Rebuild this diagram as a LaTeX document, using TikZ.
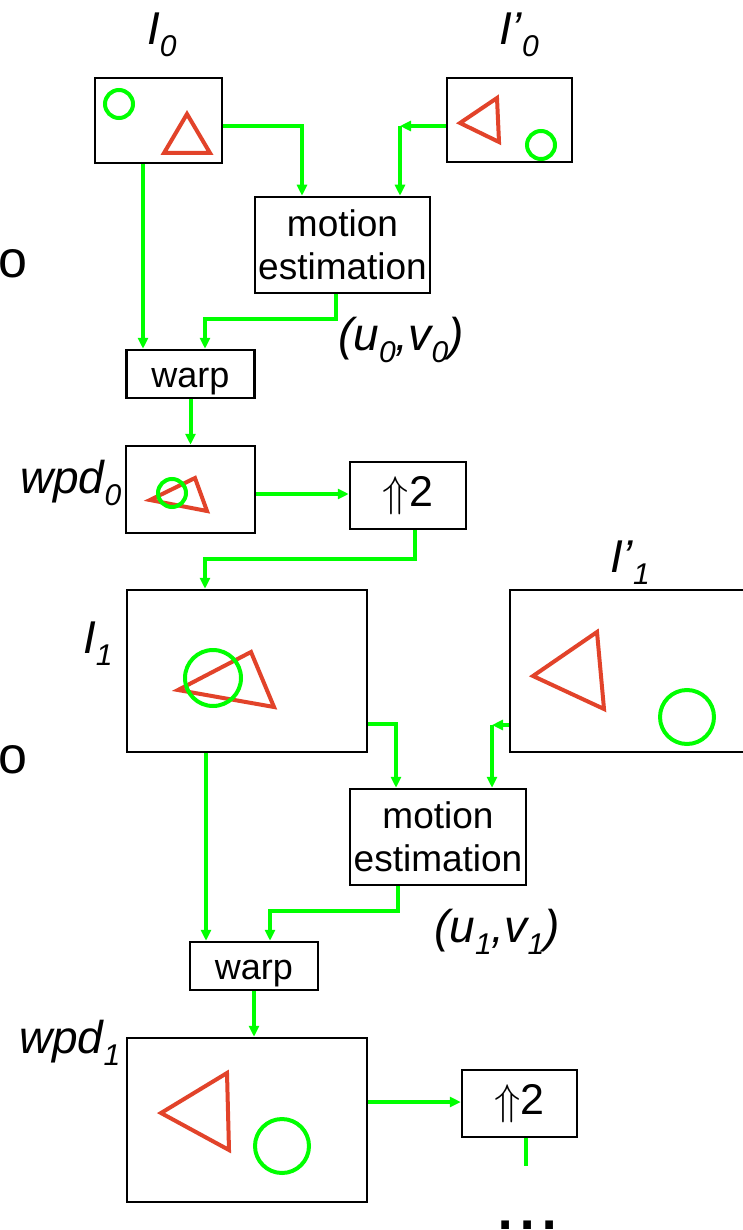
\documentclass[tikz,border=0pt]{standalone}
\usepackage{fontspec}
\setmainfont{Liberation Sans}
\usetikzlibrary{arrows.meta,positioning}
\definecolor{flow}{HTML}{00FF00}
\definecolor{tri}{HTML}{E2432A}
\newcommand{\lsub}[1]{\raisebox{-12pt}{\fontsize{30}{32}\selectfont #1}}
\newcommand{\upby}{\scalebox{4.3}{\fontsize{10}{12}\selectfont$\Uparrow$}}

\begin{document}
\begin{tikzpicture}[x=1pt, y=-1pt, >={Triangle[length=11pt,width=10pt]},
  frame/.style={draw, line width=2.5pt, inner sep=0pt},
  mebox/.style={frame, minimum width=175pt, minimum height=96pt, align=center, font=\fontsize{37}{43}\selectfont},
  wpbox/.style={frame, minimum width=128pt, minimum height=48pt, font=\fontsize{36}{40}\selectfont, text height=34pt, text depth=8pt},
  upbox/.style={frame, minimum width=116pt, minimum height=67pt, font=\fontsize{43}{48}\selectfont},
  e/.style={->, line width=4pt, draw=flow},
  lab/.style={inner sep=0pt, anchor=base west, font=\fontsize{46}{50}\selectfont\itshape},
  trig/.style={draw=tri, line width=4pt},
  circ/.style={draw=flow, line width=4pt}
]
\path[use as bounding box, fill=white] (0,0) rectangle (743,1230);
% level 0
\node[frame, minimum width=127pt, minimum height=85pt] (i0) at (158.5,120.5) {};
\node[frame, minimum width=125pt, minimum height=84pt] (ip0) at (509.5,120) {};
\node[mebox] (me0) at (342.5,245) {motion\\estimation};
\node[wpbox] (wp0) at (190.5,374) {warp};
\node[frame, minimum width=129pt, minimum height=87pt] (wd0) at (190.5,489.5) {};
\node[upbox] (up0) at (408,495.5) {\upby2};
\node[lab] (li0) at (147,45) {I\lsub{0}};
\node[lab] (lip0) at (499,45) {I’\lsub{0}};
\node[lab] (lwd0) at (20,493) {wpd\lsub{0}};
\node[lab] (luv0) at (338,350) {(u\lsub{0},v\lsub{0})};
\node[inner sep=0pt, anchor=base west, font=\fontsize{52}{56}\selectfont] (o0) at (-2,278) {o};
\draw[trig] (187,114) -- (164,153) -- (210,153) -- cycle;
\draw[circ] (119,104) circle[radius=14];
\draw[trig] (460,123) -- (497,98) -- (499,142) -- cycle;
\draw[circ] (541,145) circle[radius=14];
\draw[trig] (150,500) -- (195,478) -- (207,511) -- cycle;
\draw[circ] (172,493) circle[radius=14];
\coordinate (k0) at (400,126);
\draw[e] ([yshift=-5.5pt]i0.east) -| ([xshift=-40.5pt]me0.north);
\draw[e] ([yshift=-6pt]ip0.west) -- (k0);
\draw[e] (k0) -- (k0 |- me0.north);
\draw[e] ([xshift=-15.5pt]i0.south) -- ([xshift=-15.5pt]i0.south |- wp0.north);
\draw[e] ([xshift=-6.5pt]me0.south) -- ++(0,25) -| ([xshift=14.5pt]wp0.north);
\draw[e] (wp0) -- (wd0);
\draw[e] ([yshift=-4.5pt]wd0.east) -- ([yshift=-4.5pt]wd0.east -| up0.west);
% level 1
\node[frame, minimum width=240pt, minimum height=162pt] (i1) at (247,671) {};
\node[frame, minimum width=240pt, minimum height=162pt] (ip1) at (630,671) {};
\node[mebox, minimum width=176pt] (me1) at (438,837) {motion\\estimation};
\node[wpbox] (wp1) at (254,966) {warp};
\node[frame, minimum width=240pt, minimum height=164pt] (wd1) at (247,1120) {};
\node[upbox, minimum width=115pt] (up1) at (519.5,1103.5) {\upby2};
\node[lab] (li1) at (83,653) {I\lsub{1}};
\node[lab] (lip1) at (610,572) {I’\lsub{1}};
\node[lab] (lwd1) at (19,1053) {wpd\lsub{1}};
\node[lab] (luv1) at (434,942) {(u\lsub{1},v\lsub{1})};
\node[inner sep=0pt, anchor=base west, font=\fontsize{52}{56}\selectfont] (o1) at (-2,773) {o};
\node[inner sep=0pt, anchor=base west, font=\fontsize{80}{90}\selectfont] (dots) at (494,1229) {...};
\draw[trig] (178,690) -- (251,652) -- (274,707) -- cycle;
\draw[circ] (213,678) circle[radius=28];
\draw[trig] (533,676) -- (597,632) -- (604,709) -- cycle;
\draw[circ] (687,717) circle[radius=27];
\draw[trig] (161,1113) -- (227,1073) -- (229,1150) -- cycle;
\draw[circ] (282,1146) circle[radius=27];
\coordinate (k1) at (492,725);
\coordinate (stub) at (526,1166);
\draw[e] ([xshift=7pt]up0.south) -- ++(0,29) -| ([xshift=-42pt]i1.north);
\draw[e] ([yshift=-53pt]i1.east) -| ([xshift=-42pt]me1.north);
\draw[e] ([yshift=-54pt]ip1.west) -- (k1);
\draw[e] (k1) -- (k1 |- me1.north);
\draw[e] ([xshift=-41pt]i1.south) -- ([xshift=-41pt]i1.south |- wp1.north);
\draw[e] ([xshift=-40pt]me1.south) -- ++(0,25) -| ([xshift=16pt]wp1.north);
\draw[e] (wp1) -- (wp1 |- wd1.north);
\draw[e] ([yshift=18pt]wd1.east) -- ([yshift=18pt]wd1.east -| up1.west);
\draw[line width=4pt, draw=flow] (up1.south -| stub) -- (stub);
\end{tikzpicture}
\end{document}
